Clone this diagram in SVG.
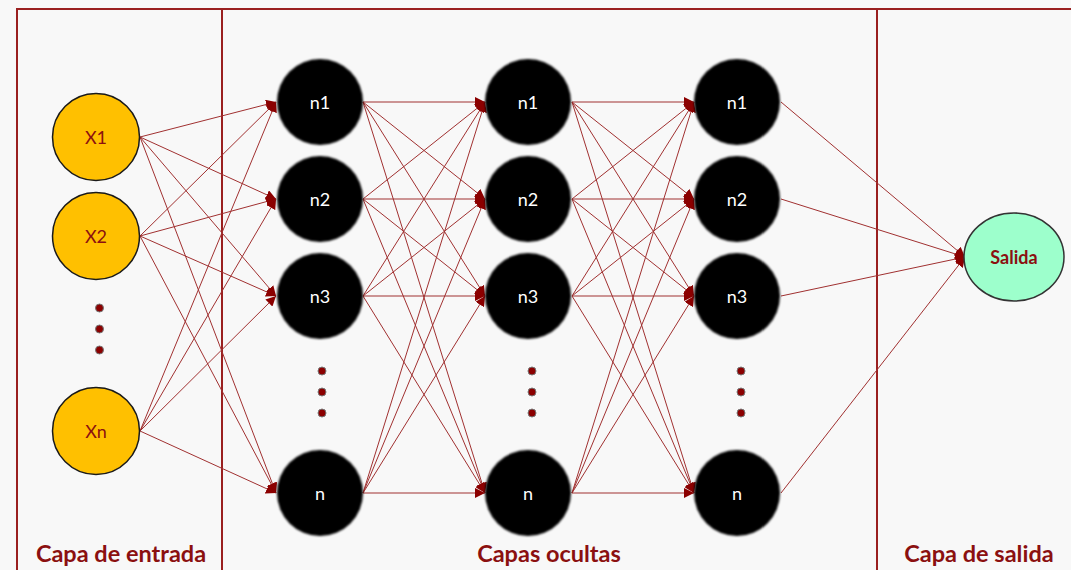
<svg xmlns="http://www.w3.org/2000/svg" width="1071" height="570" viewBox="0 0 1071 570">
  <style>
    .frame { fill: none; stroke: #9a2020; stroke-width: 2; }
    .in { fill: #FFC000; stroke: #1a1a1a; stroke-width: 1.5; }
    .in-t { font-family: "Lato", "Liberation Sans", sans-serif; font-size: 18px; fill: #8b1010; text-anchor: middle; dominant-baseline: central; }
    .hid { fill: #000; filter: url(#soft); }
    .hid-t { font-family: "Lato", "Liberation Sans", sans-serif; font-size: 18px; fill: #fff; text-anchor: middle; dominant-baseline: central; }
    .out { fill: #9dffcc; stroke: #333; stroke-width: 1.5; }
    .out-t { font-family: "Lato", "Liberation Sans", sans-serif; font-size: 18px; font-weight: bold; fill: #8b1010; text-anchor: middle; dominant-baseline: central; }
    .dot { fill: #8b0000; stroke: #777; stroke-width: 1; }
    .lbl { font-family: "Lato", "Liberation Sans", sans-serif; font-size: 23.5px; font-weight: bold; fill: #8b1010; text-anchor: middle; }
    .edge { stroke: #a03030; stroke-width: 1; fill: none; marker-end: url(#arrow); }
  </style>
  <defs>
    <filter id="soft" x="-10%" y="-10%" width="120%" height="120%">
      <feGaussianBlur stdDeviation="0.9"/>
    </filter>
    <marker id="arrow" markerUnits="userSpaceOnUse" markerWidth="12" markerHeight="10" refX="10" refY="5" orient="auto">
      <path d="M0,0 L10,5 L0,10 Z" fill="#8b0000"/>
    </marker>
  </defs>

  <rect width="1071" height="570" fill="#f8f8f8"/>

  <!-- layer frames -->
  <g id="frames">
    <path class="frame" d="M17,570 V9 H1071"/>
    <line class="frame" x1="222" y1="9" x2="222" y2="570"/>
    <line class="frame" x1="877" y1="9" x2="877" y2="570"/>
  </g>

  <!-- connectors -->
  <g id="connectors">
    <!-- input -> hidden 1 -->
    <line class="edge" x1="140" y1="137" x2="276" y2="102"/>
    <line class="edge" x1="140" y1="137" x2="276" y2="199"/>
    <line class="edge" x1="140" y1="137" x2="276" y2="296"/>
    <line class="edge" x1="140" y1="137" x2="276" y2="493"/>
    <line class="edge" x1="140" y1="236" x2="276" y2="102"/>
    <line class="edge" x1="140" y1="236" x2="276" y2="199"/>
    <line class="edge" x1="140" y1="236" x2="276" y2="296"/>
    <line class="edge" x1="140" y1="236" x2="276" y2="493"/>
    <line class="edge" x1="140" y1="431" x2="276" y2="102"/>
    <line class="edge" x1="140" y1="431" x2="276" y2="199"/>
    <line class="edge" x1="140" y1="431" x2="276" y2="296"/>
    <line class="edge" x1="140" y1="431" x2="276" y2="493"/>
    <!-- hidden 1 -> hidden 2 -->
    <line class="edge" x1="363" y1="102" x2="485" y2="102"/>
    <line class="edge" x1="363" y1="102" x2="485" y2="199"/>
    <line class="edge" x1="363" y1="102" x2="485" y2="296"/>
    <line class="edge" x1="363" y1="102" x2="485" y2="493"/>
    <line class="edge" x1="363" y1="199" x2="485" y2="102"/>
    <line class="edge" x1="363" y1="199" x2="485" y2="199"/>
    <line class="edge" x1="363" y1="199" x2="485" y2="296"/>
    <line class="edge" x1="363" y1="199" x2="485" y2="493"/>
    <line class="edge" x1="363" y1="296" x2="485" y2="102"/>
    <line class="edge" x1="363" y1="296" x2="485" y2="199"/>
    <line class="edge" x1="363" y1="296" x2="485" y2="296"/>
    <line class="edge" x1="363" y1="296" x2="485" y2="493"/>
    <line class="edge" x1="363" y1="493" x2="485" y2="102"/>
    <line class="edge" x1="363" y1="493" x2="485" y2="199"/>
    <line class="edge" x1="363" y1="493" x2="485" y2="296"/>
    <line class="edge" x1="363" y1="493" x2="485" y2="493"/>
    <!-- hidden 2 -> hidden 3 -->
    <line class="edge" x1="572" y1="102" x2="694" y2="102"/>
    <line class="edge" x1="572" y1="102" x2="694" y2="199"/>
    <line class="edge" x1="572" y1="102" x2="694" y2="296"/>
    <line class="edge" x1="572" y1="102" x2="694" y2="493"/>
    <line class="edge" x1="572" y1="199" x2="694" y2="102"/>
    <line class="edge" x1="572" y1="199" x2="694" y2="199"/>
    <line class="edge" x1="572" y1="199" x2="694" y2="296"/>
    <line class="edge" x1="572" y1="199" x2="694" y2="493"/>
    <line class="edge" x1="572" y1="296" x2="694" y2="102"/>
    <line class="edge" x1="572" y1="296" x2="694" y2="199"/>
    <line class="edge" x1="572" y1="296" x2="694" y2="296"/>
    <line class="edge" x1="572" y1="296" x2="694" y2="493"/>
    <line class="edge" x1="572" y1="493" x2="694" y2="102"/>
    <line class="edge" x1="572" y1="493" x2="694" y2="199"/>
    <line class="edge" x1="572" y1="493" x2="694" y2="296"/>
    <line class="edge" x1="572" y1="493" x2="694" y2="493"/>
    <!-- hidden 3 -> output -->
    <line class="edge" x1="781" y1="102" x2="965" y2="257"/>
    <line class="edge" x1="781" y1="199" x2="965" y2="257"/>
    <line class="edge" x1="781" y1="296" x2="965" y2="257"/>
    <line class="edge" x1="781" y1="493" x2="965" y2="257"/>
  </g>

  <!-- input layer -->
  <g id="x1"><circle class="in" cx="96" cy="137" r="43.5"/><text class="in-t" x="96" y="137">X1</text></g>
  <g id="x2"><circle class="in" cx="96" cy="236" r="43.5"/><text class="in-t" x="96" y="236">X2</text></g>
  <g id="xn"><circle class="in" cx="96" cy="431" r="43.5"/><text class="in-t" x="96" y="431">Xn</text></g>
  <g id="in-dots">
    <circle class="dot" cx="99.5" cy="308" r="4"/>
    <circle class="dot" cx="99.5" cy="329" r="4"/>
    <circle class="dot" cx="99.5" cy="350" r="4"/>
  </g>

  <!-- hidden layer 1 -->
  <g id="h1-n1"><circle class="hid" cx="320" cy="102" r="43"/><text class="hid-t" x="320" y="102">n1</text></g>
  <g id="h1-n2"><circle class="hid" cx="320" cy="199" r="43"/><text class="hid-t" x="320" y="199">n2</text></g>
  <g id="h1-n3"><circle class="hid" cx="320" cy="296" r="43"/><text class="hid-t" x="320" y="296">n3</text></g>
  <g id="h1-n"><circle class="hid" cx="320" cy="493" r="43"/><text class="hid-t" x="320" y="493">n</text></g>
  <g id="h1-dots">
    <circle class="dot" cx="322" cy="371" r="4"/>
    <circle class="dot" cx="322" cy="392" r="4"/>
    <circle class="dot" cx="322" cy="413" r="4"/>
  </g>

  <!-- hidden layer 2 -->
  <g id="h2-n1"><circle class="hid" cx="528" cy="102" r="43"/><text class="hid-t" x="528" y="102">n1</text></g>
  <g id="h2-n2"><circle class="hid" cx="528" cy="199" r="43"/><text class="hid-t" x="528" y="199">n2</text></g>
  <g id="h2-n3"><circle class="hid" cx="528" cy="296" r="43"/><text class="hid-t" x="528" y="296">n3</text></g>
  <g id="h2-n"><circle class="hid" cx="528" cy="493" r="43"/><text class="hid-t" x="528" y="493">n</text></g>
  <g id="h2-dots">
    <circle class="dot" cx="532" cy="371" r="4"/>
    <circle class="dot" cx="532" cy="392" r="4"/>
    <circle class="dot" cx="532" cy="413" r="4"/>
  </g>

  <!-- hidden layer 3 -->
  <g id="h3-n1"><circle class="hid" cx="737" cy="102" r="43"/><text class="hid-t" x="737" y="102">n1</text></g>
  <g id="h3-n2"><circle class="hid" cx="737" cy="199" r="43"/><text class="hid-t" x="737" y="199">n2</text></g>
  <g id="h3-n3"><circle class="hid" cx="737" cy="296" r="43"/><text class="hid-t" x="737" y="296">n3</text></g>
  <g id="h3-n"><circle class="hid" cx="737" cy="493" r="43"/><text class="hid-t" x="737" y="493">n</text></g>
  <g id="h3-dots">
    <circle class="dot" cx="741" cy="371" r="4"/>
    <circle class="dot" cx="741" cy="392" r="4"/>
    <circle class="dot" cx="741" cy="413" r="4"/>
  </g>

  <!-- output layer -->
  <g id="salida"><ellipse class="out" cx="1014" cy="257" rx="50" ry="44"/><text class="out-t" x="1014" y="257">Salida</text></g>

  <!-- layer captions -->
  <g id="captions">
    <text class="lbl" x="121" y="562">Capa de entrada</text>
    <text class="lbl" x="549" y="562">Capas ocultas</text>
    <text class="lbl" x="979" y="562">Capa de salida</text>
  </g>
</svg>
